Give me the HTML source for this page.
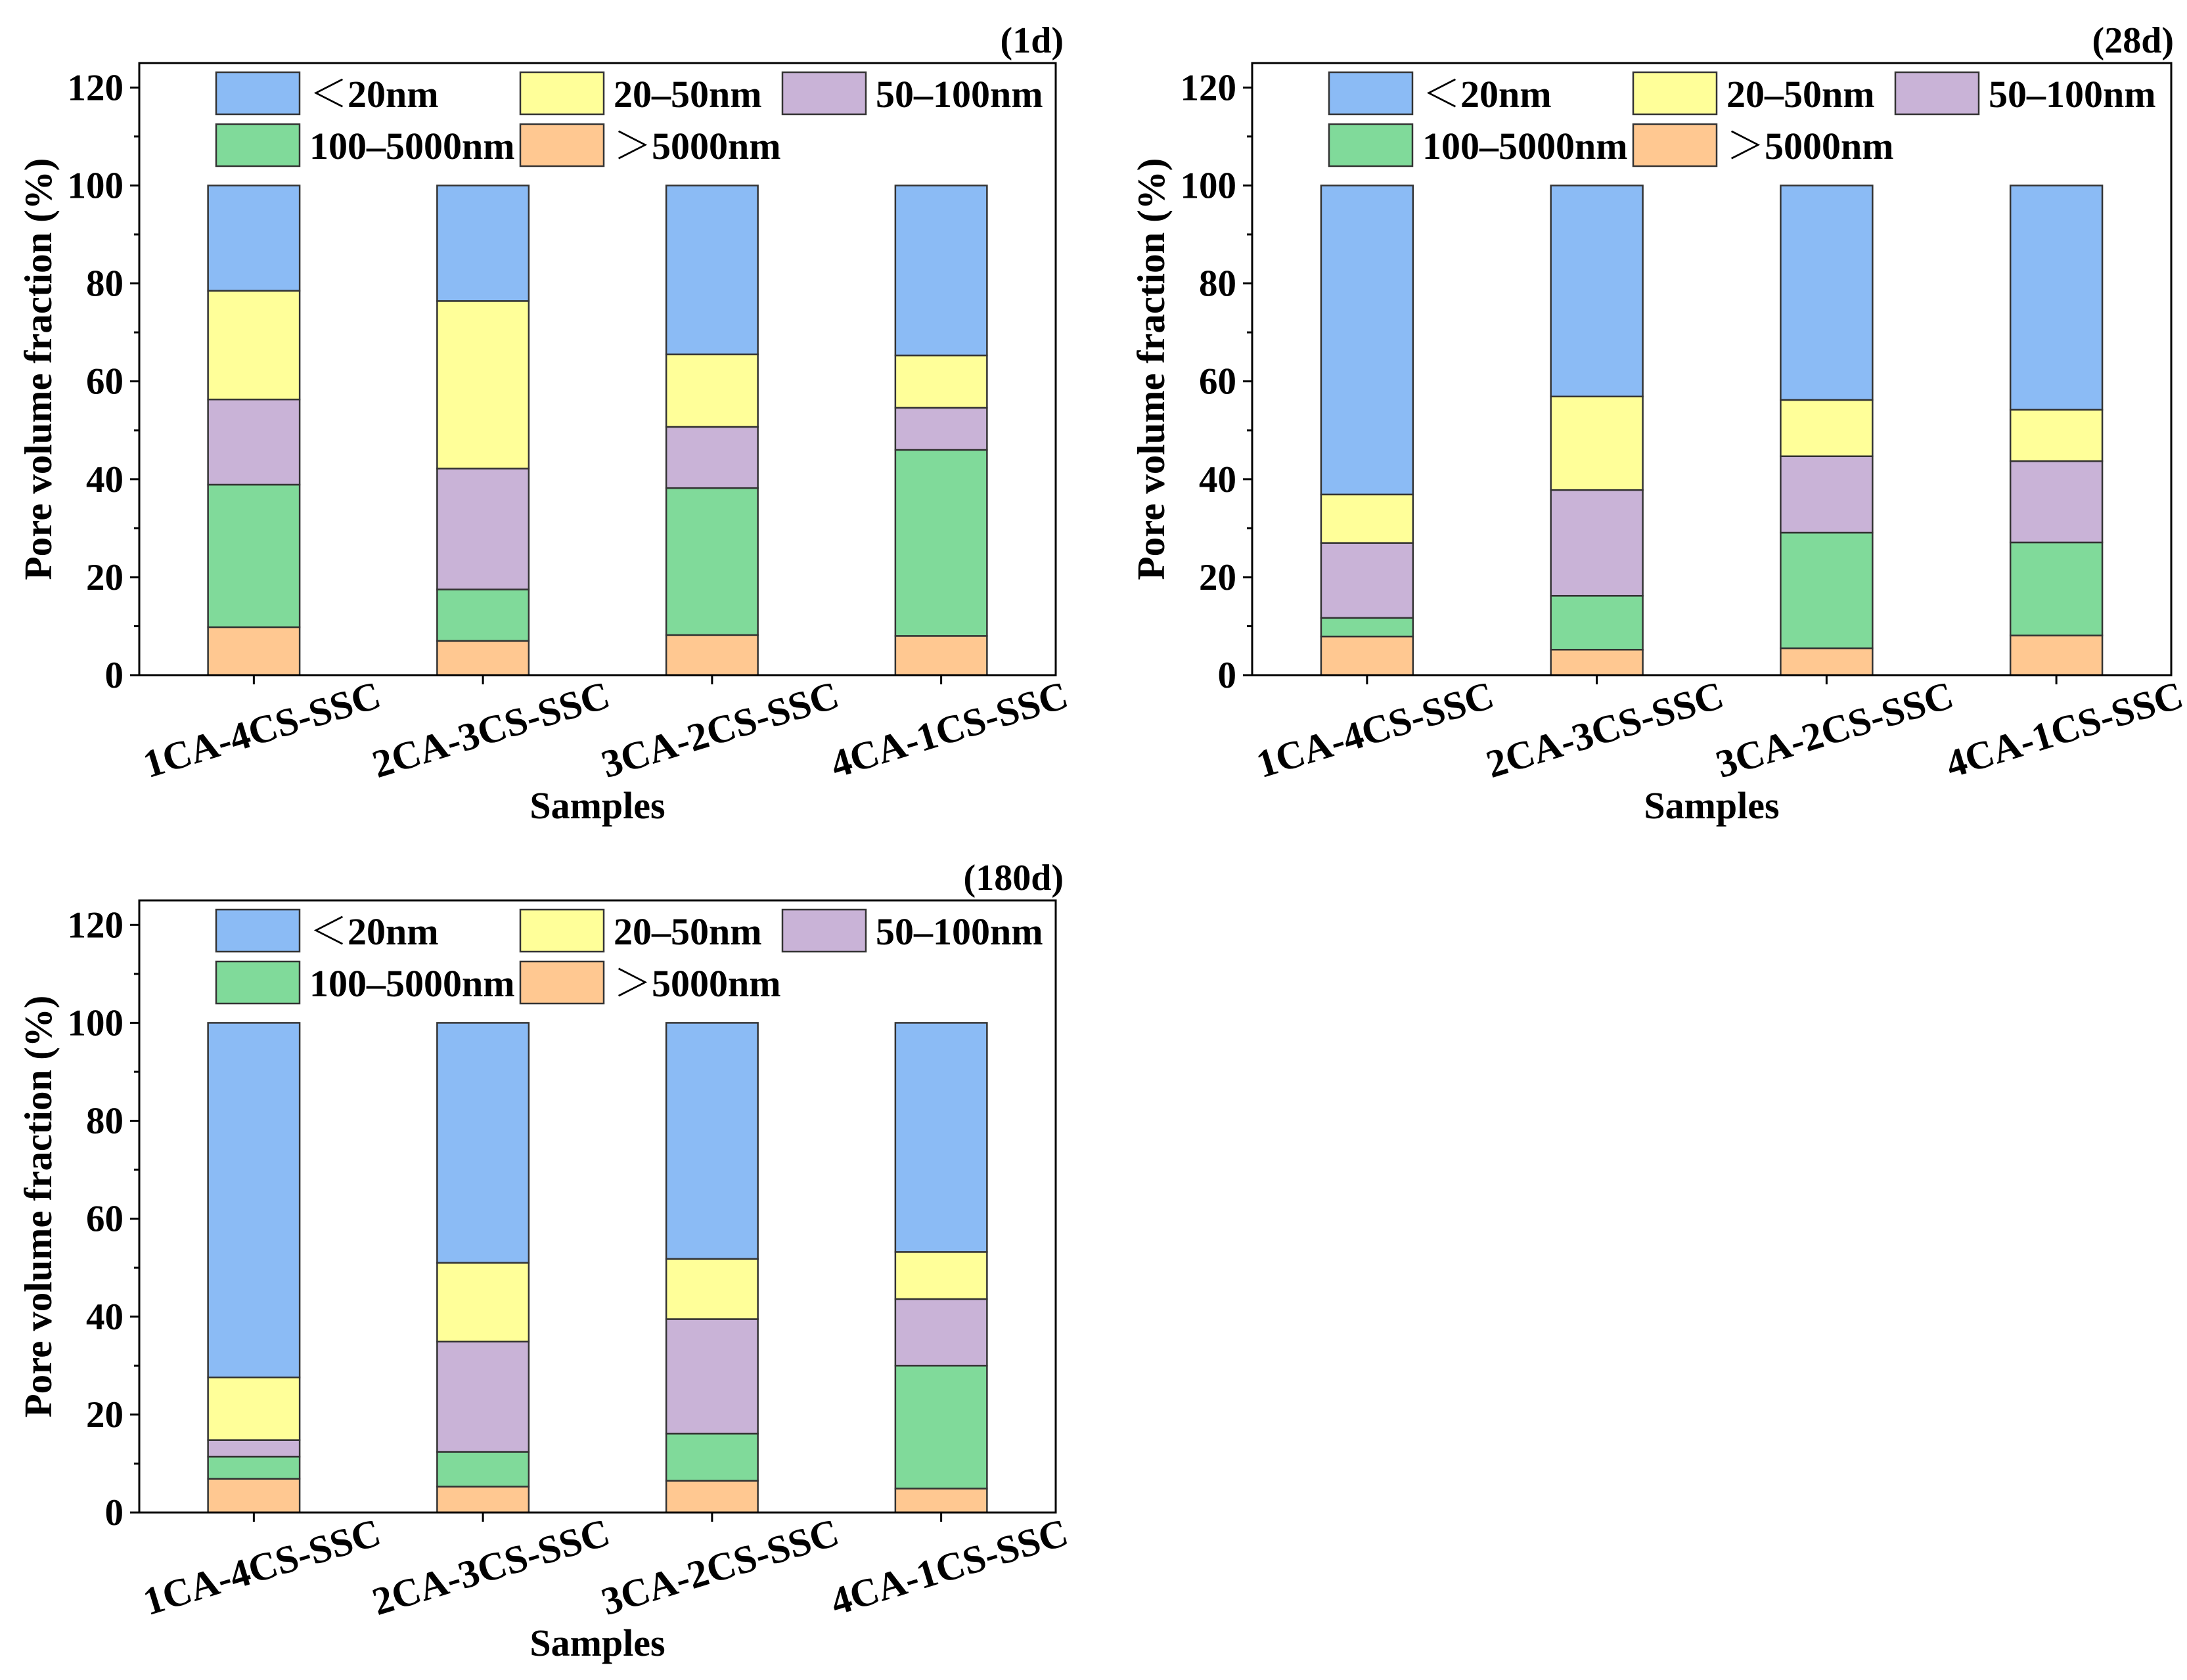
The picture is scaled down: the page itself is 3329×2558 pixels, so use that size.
<!DOCTYPE html>
<html><head><meta charset="utf-8"><style>
html,body{margin:0;padding:0;background:#fff}
svg{display:block}
text{font-family:"Liberation Serif","Noto Serif CJK SC",serif;font-weight:bold;fill:#000}
</style></head><body>
<svg id="fig" width="3329" height="2558" viewBox="0 0 3329 2558" xmlns="http://www.w3.org/2000/svg"></svg>
<script>
const categories = ["1CA-4CS-SSC","2CA-3CS-SSC","3CA-2CS-SSC","4CA-1CS-SSC"];
const seriesNames = ["＜20nm","20–50nm","50–100nm","100–5000nm","＞5000nm"];
const yTicks = [0,20,40,60,80,100,120];
// bottom-up segment values (%): >5000, 100-5000, 50-100, 20-50 ; <20nm = remainder to 100
const d1_gt5000 = [9.8,7.0,8.2,8.0];
const d1_100_5000 = [29.1,10.5,30.0,38.0];
const d1_50_100 = [17.4,24.7,12.5,8.6];
const d1_20_50 = [22.2,34.2,14.8,10.7];
const d28_gt5000 = [7.9,5.2,5.5,8.1];
const d28_100_5000 = [3.8,11.0,23.6,19.0];
const d28_50_100 = [15.3,21.6,15.6,16.6];
const d28_20_50 = [9.9,19.1,11.5,10.5];
const d180_gt5000 = [6.9,5.3,6.5,4.9];
const d180_100_5000 = [4.5,7.1,9.6,25.1];
const d180_50_100 = [3.4,22.5,23.4,13.6];
const d180_20_50 = [12.8,16.1,12.3,9.6];
const panelTitles = ["(1d)","(28d)","(180d)"];

const colors = ["#8BBBF5","#FFFF99","#C9B3D7","#80DA9A","#FFC891"];
const NS="http://www.w3.org/2000/svg";
const svg=document.getElementById('fig');
function mk(tag,attrs,parent){const e=document.createElementNS(NS,tag);for(const k in attrs)e.setAttribute(k,attrs[k]);(parent||svg).appendChild(e);return e;}

const panels=[
 {L:212,R:1607,T:96,B:1028,data:[d1_gt5000,d1_100_5000,d1_50_100,d1_20_50],title:panelTitles[0],id:"1d",tOff:12},
 {L:1906,R:3305,T:96,B:1028,data:[d28_gt5000,d28_100_5000,d28_50_100,d28_20_50],title:panelTitles[1],id:"28d",tOff:4},
 {L:212,R:1607,T:1371,B:2303,data:[d180_gt5000,d180_100_5000,d180_50_100,d180_20_50],title:panelTitles[2],id:"180d",tOff:12}
];

panels.forEach(p=>{
  const g=mk('g',{});
  
  
  const ymax=125;
  const y=v=>p.B-(v/ymax)*(p.B-p.T);
  const band=(p.R-p.L)/categories.length;
  const xc=i=>p.L+band*(i+0.5);
  const bw=band*0.4;
  categories.forEach((c,i)=>{
    let cum=0;
    const vals=[p.data[0][i],p.data[1][i],p.data[2][i],p.data[3][i]];
    const rest=100-vals.reduce((a,b)=>a+b,0);
    vals.push(rest);
    const colIdx=[4,3,2,1,0];
    vals.forEach((v,k)=>{
      const r=mk('rect',{x:xc(i)-bw/2,y:y(cum+v),width:bw,height:y(cum)-y(cum+v),fill:colors[colIdx[k]],stroke:'#333','stroke-width':2.5},g);
      
      
      cum+=v;
    });
  });
  const fr=mk('rect',{x:p.L,y:p.T,width:p.R-p.L,height:p.B-p.T,fill:'none',stroke:'#000','stroke-width':3},g);
  
  
  for(let v=0;v<=120;v+=10){
    const major=v%20===0;
    mk('line',{x1:p.L,x2:p.L-(major?14:8),y1:y(v),y2:y(v),stroke:'#000','stroke-width':3},g);
  }
  yTicks.forEach(v=>{
    const t=mk('text',{x:p.L-24,y:y(v)+19,'font-size':57,'text-anchor':'end'},g);
    t.textContent=v;
    
    
  });
  categories.forEach((c,i)=>{
    mk('line',{x1:xc(i),x2:xc(i),y1:p.B,y2:p.B+14,stroke:'#000','stroke-width':3},g);
    const t=mk('text',{x:0,y:0,'font-size':60,'text-anchor':'middle',transform:`translate(${xc(i)+18},${p.B+102}) rotate(-17)`},g);
    t.textContent=c;
    
    
  });
  const xt=mk('text',{x:(p.L+p.R)/2,y:p.B+218,'font-size':58,'text-anchor':'middle'},g);
  xt.textContent='Samples';
  
  
  const yt=mk('text',{x:0,y:0,'font-size':59,'text-anchor':'middle',transform:`translate(${p.L-134},${(p.T+p.B)/2}) rotate(-90)`},g);
  yt.textContent='Pore volume fraction (%)';
  
  
  const pt=mk('text',{x:p.R+p.tOff,y:p.T-16,'font-size':56,'text-anchor':'end'},g);
  pt.textContent=p.title;
  
  
  const pos=[[117,0],[580,0],[979,0],[117,1],[580,1]];
  seriesNames.forEach((s,k)=>{
    const lx=p.L+pos[k][0], ly=p.T+14+pos[k][1]*79;
    const lg=mk('g',{},g);
    
    
    mk('rect',{x:lx,y:ly,width:127,height:64,fill:colors[k],stroke:'#333','stroke-width':2.5},lg);
    const t=mk('text',{x:lx+142,y:ly+53,'font-size':58},lg);
    t.textContent=s;
  });
});
</script>
</body></html>
